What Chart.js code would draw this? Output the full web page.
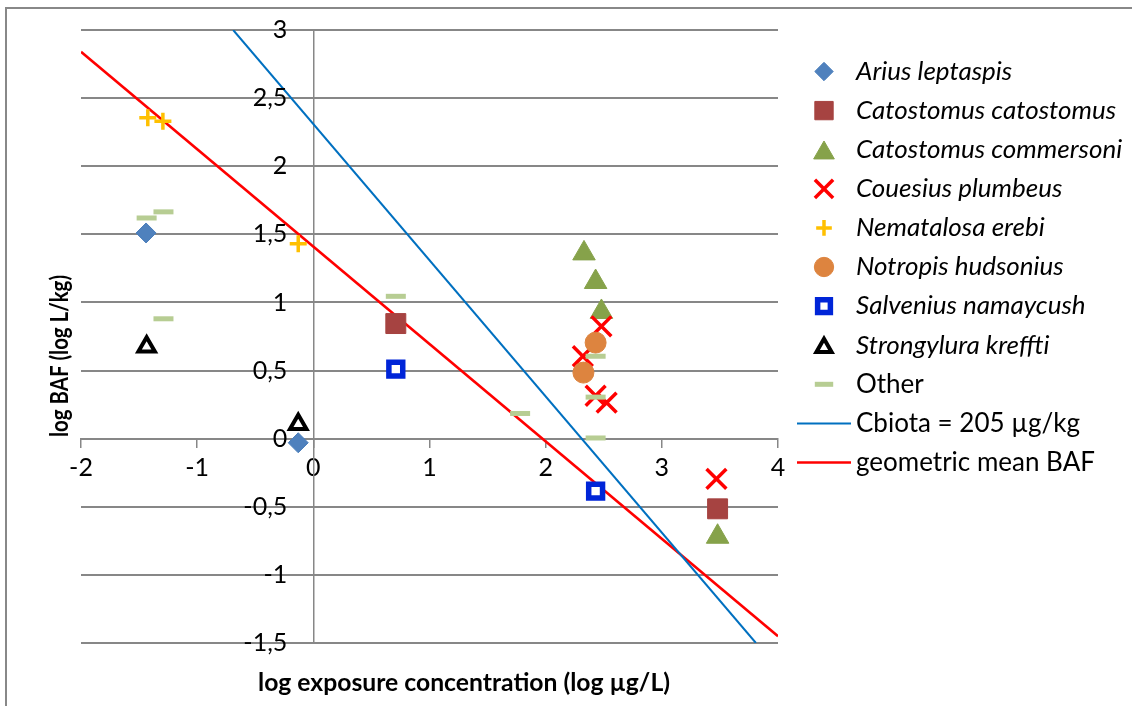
<!DOCTYPE html>
<html>
<head>
<meta charset="utf-8">
<script src="https://cdn.jsdelivr.net/npm/chart.js@4.4.1/dist/chart.umd.min.js"></script>
<style>
  html, body { margin: 0; padding: 0; background: #fff; overflow: hidden; }
  #frame { position: absolute; left: 5px; top: 7px; width: 1200px; height: 800px; border: 2px solid #888; }
  #wrap { position: absolute; left: 0; top: 0; width: 1132px; height: 706px; }
</style>
</head>
<body>
<div id="frame"></div>
<div id="wrap"><canvas id="chart" width="1132" height="706"></canvas></div>
<script>
// [log exposure concentration, log BAF] for each species
const ariusLeptaspis = [[-1.44, 1.51], [-0.13, -0.03]];
const catostomusCatostomus = [[0.71, 0.845], [3.48, -0.515]];
const catostomusCommersoni = [[2.33, 1.36], [2.43, 1.15], [2.48, 0.93], [3.48, -0.72]];
const couesiusPlumbeus = [[2.48, 0.825], [2.32, 0.605], [2.43, 0.315], [2.525, 0.265], [3.47, -0.295]];
const nematalosaErebi = [[-1.425, 2.355], [-1.295, 2.33], [-0.13, 1.43]];
const notropisHudsonius = [[2.43, 0.705], [2.325, 0.485]];
const salveniusNamaycush = [[0.71, 0.51], [2.43, -0.385]];
const strongyluraKreffti = [[-1.435, 0.675], [-0.13, 0.105]];
const otherSpecies = [[-1.435, 1.62], [-1.29, 1.665], [-1.29, 0.88], [0.71, 1.045],
                      [1.78, 0.185], [2.43, 0.605], [2.43, 0.305], [2.43, 0.005]];

// reference lines
const cbiotaLine = [[-0.69, 3], [3.81, -1.5]];
const geoMeanLine = [[-2, 2.84], [4, -1.45]];

const xTicks = [-2, -1, 0, 1, 2, 3, 4];
const yTicks = [-1.5, -1, -0.5, 0, 0.5, 1, 1.5, 2, 2.5, 3];

const FONT = 'Lato, "Open Sans", sans-serif';
const GRID = '#878787';

function pts(arr) {
    return arr.map(function (p) { return { x: p[0], y: p[1] }; });
}

function marker(label, data, style, radius, fill, stroke, width, idx) {
    return {
        label: label,
        data: pts(data),
        pointStyle: style,
        pointRadius: radius,
        pointHoverRadius: radius,
        pointBackgroundColor: fill,
        pointBorderColor: stroke,
        pointBorderWidth: width,
        showLine: false,
        italic: label !== 'Other',
        order: 50 - idx
    };
}

const datasets = [
    marker('Arius leptaspis', ariusLeptaspis, 'rectRot', 10, '#4f81bd', '#4a7ebb', 1, 0),
    marker('Catostomus catostomus', catostomusCatostomus, 'rect', 14.1, '#a64341', '#a64341', 1, 1),
    marker('Catostomus commersoni', catostomusCommersoni, 'triangle', 13, '#86a24a', '#86a24a', 1, 2),
    marker('Couesius plumbeus', couesiusPlumbeus, 'crossRot', 14, '#ff0000', '#ff0000', 3.5, 3),
    marker('Nematalosa erebi', nematalosaErebi, 'cross', 8.5, '#ffc000', '#ffc000', 3.5, 4),
    marker('Notropis hudsonius', notropisHudsonius, 'circle', 10.5, '#dd843f', '#dd843f', 1, 5),
    marker('Salvenius namaycush', salveniusNamaycush, 'rect', 9.8, '#ffffff', '#0025d8', 5.5, 6),
    marker('Strongylura kreffti', strongyluraKreffti, 'triangle', 9.5, '#ffffff', '#000000', 4, 7),
    marker('Other', otherSpecies, 'line', 10, '#b7cd93', '#b7cd93', 5, 8),
    {
        label: 'Cbiota = 205 µg/kg',
        data: pts(cbiotaLine),
        showLine: true,
        borderColor: '#0070c0',
        borderWidth: 2,
        pointRadius: 0,
        italic: false,
        order: 100
    },
    {
        label: 'geometric mean BAF',
        data: pts(geoMeanLine),
        showLine: true,
        borderColor: '#ff0000',
        borderWidth: 2.5,
        pointRadius: 0,
        italic: false,
        order: 101
    }
];

// legend drawn at the right of the plot so species names can be italic
const sideLegend = {
    id: 'sideLegend',
    afterDraw(chart) {
        const ctx = chart.ctx;
        ctx.save();
        chart.data.datasets.forEach(function (ds, i) {
            const y = 71.5 + i * 39.1;
            if (ds.showLine) {
                ctx.strokeStyle = ds.borderColor;
                ctx.lineWidth = ds.borderWidth;
                ctx.beginPath();
                ctx.moveTo(797, y);
                ctx.lineTo(851, y);
                ctx.stroke();
            } else {
                ctx.fillStyle = ds.pointBackgroundColor;
                ctx.strokeStyle = ds.pointBorderColor;
                ctx.lineWidth = ds.pointBorderWidth;
                let yy = y;
                if (ds.pointStyle === 'triangle') yy = y + ds.pointRadius * 0.25;
                Chart.helpers.drawPoint(ctx, {
                    pointStyle: ds.pointStyle,
                    radius: ds.pointRadius * 0.92,
                    borderWidth: ds.pointBorderWidth,
                    rotation: 0
                }, 824, yy);
            }
            ctx.fillStyle = '#000';
            ctx.font = (ds.italic ? 'italic ' : '') + '26px ' + FONT;
            ctx.textAlign = 'left';
            ctx.textBaseline = 'middle';
            ctx.fillText(ds.label, 856, y);
        });
        ctx.restore();
    }
};

// axis titles and the y tick labels (placed left of the x = 0 axis line)
const axisText = {
    id: 'axisText',
    afterDraw(chart) {
        const ctx = chart.ctx;
        const xs = chart.scales.x;
        const ys = chart.scales.y;
        ctx.save();
        ctx.fillStyle = '#000';
        ctx.font = '25px ' + FONT;
        ctx.textAlign = 'right';
        ctx.textBaseline = 'middle';
        const labelX = xs.getPixelForValue(0) - 26;
        yTicks.forEach(function (v) {
            ctx.fillText(String(v).replace('.', ','), labelX, ys.getPixelForValue(v));
        });

        ctx.font = 'bold 25px ' + FONT;
        ctx.textAlign = 'center';
        ctx.fillText('log exposure concentration (log µg/L)', 464, 683, 412);
        ctx.translate(60, 356);
        ctx.rotate(-Math.PI / 2);
        ctx.fillText('log BAF (log L/kg)', 0, 0, 162);
        ctx.restore();
    }
};

const ctx = document.getElementById('chart').getContext('2d');
const chart = new Chart(ctx, {
    type: 'scatter',
    data: { datasets: datasets },
    options: {
        responsive: false,
        animation: false,
        layout: { padding: { left: 81, top: 30, right: 354, bottom: 63 } },
        plugins: {
            legend: { display: false },
            tooltip: { enabled: false }
        },
        scales: {
            x: {
                type: 'linear',
                min: -2,
                max: 4,
                position: { y: 0 },
                afterBuildTicks: function (scale) {
                    scale.ticks = xTicks.map(function (v) { return { value: v }; });
                },
                ticks: {
                    color: '#000',
                    font: { family: FONT, size: 25 },
                    padding: 6,
                    maxRotation: 0,
                    callback: function (v) { return String(v); }
                },
                grid: {
                    drawOnChartArea: false,
                    drawTicks: true,
                    tickLength: 8,
                    color: GRID,
                    lineWidth: 1.5
                },
                border: { display: true, color: GRID, width: 2 }
            },
            y: {
                type: 'linear',
                min: -1.5,
                max: 3,
                position: { x: 0 },
                afterBuildTicks: function (scale) {
                    scale.ticks = yTicks.map(function (v) { return { value: v }; });
                },
                ticks: { display: false },
                grid: {
                    drawTicks: false,
                    color: GRID,
                    lineWidth: 2
                },
                border: { display: true, color: GRID, width: 1.5 }
            }
        }
    },
    plugins: [sideLegend, axisText]
});
</script>
</body>
</html>
